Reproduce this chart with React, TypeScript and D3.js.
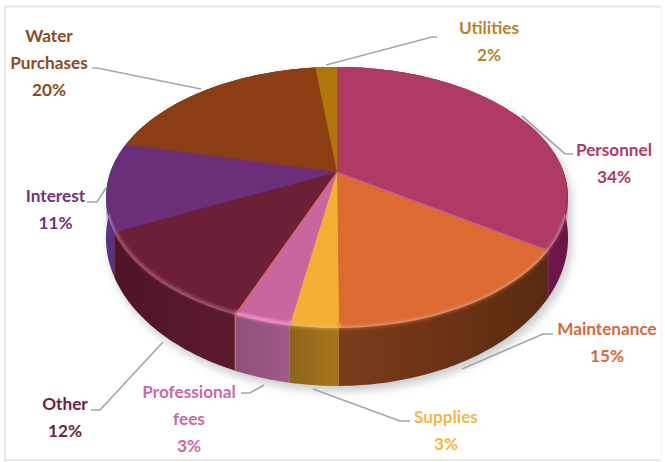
import React from "react";
import * as d3 from "d3";

// Underlying shares of the budget; the printed percentages are these values rounded.
const categories = ["Personnel", "Maintenance", "Supplies", "Professional fees", "Other", "Interest", "Water Purchases", "Utilities"];
const shares = [34.4, 15.49, 2.8, 3.3, 11.8, 10.9, 19.5, 1.81];
const topColors = ["#b03a66", "#dd6a30", "#f5b034", "#c9659f", "#6c2038", "#6a2f78", "#8b3d14", "#b27508"];
const sideStart = ["#6a1648", "#7c3c1a", "#a8761c", "#a05a88", "#5c1a30", "#6a3488", "#6a2a10", "#7a5008"];
const sideEnd = ["#480c38", "#5a2a10", "#8c6418", "#8c5078", "#4e1428", "#5c2f86", "#6a2a10", "#7a5008"];
const textColors = ["#b03a6a", "#d8693c", "#f4b83e", "#cd68a6", "#6c2340", "#70327e", "#8e4a22", "#b5862a"];

// Rim highlights: colour and strength per slice, zero where the rim has none.
const rimGlow = ["#c85080", "#dd6a30", "#f5b034", "#ff90d8", "#a04860", "#6a2f78", "#8b3d14", "#b27508"];
const rimGlowOpacity = [0, 0, 0, 1, 0.75, 0, 0, 0];

// Label text blocks: centre x, first baseline, lines above the percentage.
const labelLayout: [number, number, string[]][] = [
  [614, 156, ["Personnel"]],
  [607, 335, ["Maintenance"]],
  [446, 423, ["Supplies"]],
  [189, 398, ["Professional", "fees"]],
  [65, 410, ["Other"]],
  [55.5, 202, ["Interest"]],
  [49, 42, ["Water", "Purchases"]],
  [489, 34, ["Utilities"]],
];
const lineStep = 27;

// Leader polylines from each label towards its slice.
const leaders: [number, number][][] = [
  [[573, 154], [565, 154], [522, 116]],
  [[553, 334], [543, 334], [462, 369]],
  [[410, 421], [400, 421], [313, 389]],
  [[241, 393], [250, 393], [264, 385]],
  [[91, 410], [100, 410], [163, 342]],
  [[87, 202], [97, 202], [106, 188]],
  [[92, 68], [97, 68], [201, 89]],
  [[437, 37], [432, 37], [326, 65]],
];

// Perspective disc: the near edge of the pie is drawn larger than the far edge.
const cx = 337;
const cy = 172;
const tilt = 0.195;
const radiusX = d3.scaleLinear().domain([-1, 1]).range([cx - 226.6, cx + 226.6]);
const radiusY = d3.scaleLinear().domain([-1, 1]).range([cy - 125.5, cy + 125.5]);
const wallHeight = 37.6;

type Pt = [number, number];

function project(angle: number, s = 1, drop = 0): Pt {
  const x = s * Math.sin(angle);
  const y = -s * Math.cos(angle);
  const w = 1 - tilt * y;
  return [radiusX(x / w), radiusY(y / w) + (drop * wallHeight) / (w * w)];
}

function arcAngles(a0: number, a1: number): number[] {
  const n = Math.max(2, Math.ceil((a1 - a0) / 0.02));
  return d3.range(n + 1).map((i) => a0 + ((a1 - a0) * i) / n);
}

const line = d3.line<Pt>().x((d) => d[0]).y((d) => d[1]);

const pie = d3.pie<number>().sort(null).value((d) => d);
const slices = pie(shares);

// The near rim of the sharp face is pulled in so the blurred copy softens it.
const rimScale = (a: number) => 1 - 0.03 * Math.max(0, -Math.cos(a));

function facePath(a0: number, a1: number, inset: boolean): string {
  const rim = arcAngles(a0, a1).map((a) => project(a, inset ? rimScale(a) : 1));
  return line([[cx, cy], ...rim])! + "Z";
}

function rimPath(a0: number, a1: number): string {
  return line(arcAngles(a0, a1).map((a) => project(a, 1 - 0.008)))!;
}

function wallPath(a0: number, a1: number): string {
  const angles = arcAngles(a0, a1);
  const upper = angles.map((a) => project(a));
  const lower = angles.slice().reverse().map((a) => project(a, 1, 1));
  return line([...upper, ...lower])! + "Z";
}

const fullCircle = arcAngles(0, 2 * Math.PI);
const outlinePts = d3.polygonHull([
  ...fullCircle.map((a) => project(a)),
  ...fullCircle.map((a) => project(a, 1, 1)),
] as [number, number][])!;
const outline = line(outlinePts as Pt[])! + "Z";

// Walls are painted from the far side towards the viewer.
const wallOrder = d3.range(slices.length).sort(
  (i, j) =>
    -Math.cos((slices[i].startAngle + slices[i].endAngle) / 2) +
    Math.cos((slices[j].startAngle + slices[j].endAngle) / 2)
);

export default function App() {
  const font = "Lato, 'Open Sans', sans-serif";
  return (
    <svg
      width={665}
      height={462}
      viewBox="0 0 665 462"
      style={{ position: "absolute", left: 0, top: 0, background: "#fff" }}
    >
      <defs>
        <filter id="soft" x="-20%" y="-20%" width="140%" height="140%">
          <feGaussianBlur stdDeviation="2.2" />
        </filter>
        <filter id="glow" x="-30%" y="-100%" width="160%" height="300%">
          <feGaussianBlur stdDeviation="1.6" />
        </filter>
        <filter id="shade" x="-20%" y="-20%" width="140%" height="140%">
          <feGaussianBlur stdDeviation="5" />
        </filter>
        <clipPath id="body">
          <path d={outline} />
        </clipPath>
        {slices.map((s, i) => {
          const p0 = project(s.startAngle, 1, 1);
          const p1 = project(s.endAngle, 1, 1);
          return (
            <linearGradient
              key={i}
              id={`wall${i}`}
              gradientUnits="userSpaceOnUse"
              x1={Math.max(p0[0], p1[0])}
              y1={0}
              x2={Math.min(p0[0], p1[0])}
              y2={0}
            >
              <stop offset="0" stopColor={i === 1 ? sideEnd[i] : sideStart[i]} />
              <stop offset="1" stopColor={i === 1 ? sideStart[i] : sideEnd[i]} />
            </linearGradient>
          );
        })}
      </defs>

      {/* Chart frame; the right edge is fainter than the others */}
      <path d="M661,6.5H5V460H661" fill="none" stroke="#e6e6e6" strokeWidth={2} />
      <path d="M661,6.5V460" fill="none" stroke="#f4f4f4" strokeWidth={1.5} />

      <path d={outline} fill="#8f9696" opacity={0.5} filter="url(#shade)" transform="translate(3,5)" />

      {wallOrder.map((i) => (
        <path
          key={i}
          d={wallPath(slices[i].startAngle, slices[i].endAngle)}
          fill={`url(#wall${i})`}
        />
      ))}

      <g clipPath="url(#body)">
        <g filter="url(#soft)">
          {slices.map((s, i) => (
            <path key={i} d={facePath(s.startAngle, s.endAngle, false)} fill={topColors[i]} />
          ))}
        </g>
      </g>

      {slices.map((s, i) => (
        <path key={i} d={facePath(s.startAngle, s.endAngle, true)} fill={topColors[i]} />
      ))}

      <g filter="url(#glow)">
        {slices.map((s, i) =>
          rimGlowOpacity[i] > 0 ? (
            <path
              key={i}
              d={rimPath(s.startAngle, s.endAngle)}
              fill="none"
              stroke={rimGlow[i]}
              strokeWidth={2.5}
              opacity={rimGlowOpacity[i]}
            />
          ) : null
        )}
      </g>

      {/* Thin accent edges along two of the slice boundaries */}
      <path d={line([[cx, cy], project(slices[0].endAngle)])!} stroke="#b060b8" strokeWidth={1} fill="none" />
      <path
        d={line([[cx, cy], project(slices[3].endAngle), project(slices[3].endAngle, 1, 1)])!}
        stroke="#e07838"
        strokeWidth={1}
        fill="none"
      />

      {leaders.map((pts, i) => (
        <path key={i} d={line(pts)!} fill="none" stroke="#a4a8a8" strokeWidth={1.7} />
      ))}

      {categories.map((_, i) => {
        const [x, y, lines] = labelLayout[i];
        const rows = [...lines, `${Math.round(shares[i])}%`];
        return (
          <text
            key={i}
            textAnchor="middle"
            fontFamily={font}
            fontWeight={700}
            fontSize={17.2}
            fill={textColors[i]}
          >
            {rows.map((row, r) => (
              <tspan key={r} x={x} y={y + r * lineStep}>
                {row}
              </tspan>
            ))}
          </text>
        );
      })}
    </svg>
  );
}
